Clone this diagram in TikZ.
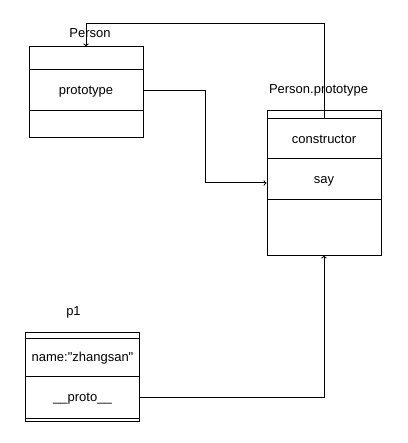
\documentclass[tikz,border=0pt]{standalone}
\usepackage{fontspec}
\setmainfont{Liberation Sans}
\tikzset{
  part/.style={draw,line width=1pt,inner sep=0pt,minimum width=114pt,font=\fontsize{13}{15}\selectfont},
  field/.style={part,text height=10pt,text depth=1pt},
  link/.style={->,line width=1pt},
}
\begin{document}
\begin{tikzpicture}[x=1pt,y=-1pt]
\useasboundingbox (0,0) rectangle (407,443);
% Person
\node[part,minimum height=23pt] (personTop) at (86,58.5) {};
\node[field,minimum height=41pt] (personProto) at (86,90.5) {prototype};
\node[part,minimum height=27pt] (personBot) at (86,124.5) {};
\node[font=\fontsize{13}{15}\selectfont] (personLbl) at (90,33.5) {Person};
% Person.prototype
\node[part,minimum height=8pt] (ppTop) at (324,115) {};
\node[field,minimum height=40pt] (ppCons) at (324,139) {constructor};
\node[field,minimum height=41pt] (ppSay) at (324,179.5) {say};
\node[part,minimum height=55pt] (ppBot) at (324,227.5) {};
\node[font=\fontsize{13}{15}\selectfont] (ppLbl) at (318.5,90) {Person.prototype};
% p1
\node[part,minimum height=6pt] (p1Top) at (82.5,335) {};
\node[field,minimum height=38pt] (p1Name) at (82.5,357) {name:\textquotedbl zhangsan\textquotedbl};
\node[field,minimum height=42pt] (p1Proto) at (82.5,397) {\_\_proto\_\_};
\node[part,minimum height=3pt] (p1Bot) at (82.5,419.5) {};
\node[font=\fontsize{13}{15}\selectfont] (p1Lbl) at (73.5,312) {p1};
% links
\draw[link] (ppCons.north) -- ++(0,-94.5) -| (personTop.north);
\draw[link] (personProto.east) -- ++(62,0) |- ([yshift=-3.5pt]ppSay.west);
\draw[link] (p1Proto.east) -| (ppBot.south);
\end{tikzpicture}
\end{document}
